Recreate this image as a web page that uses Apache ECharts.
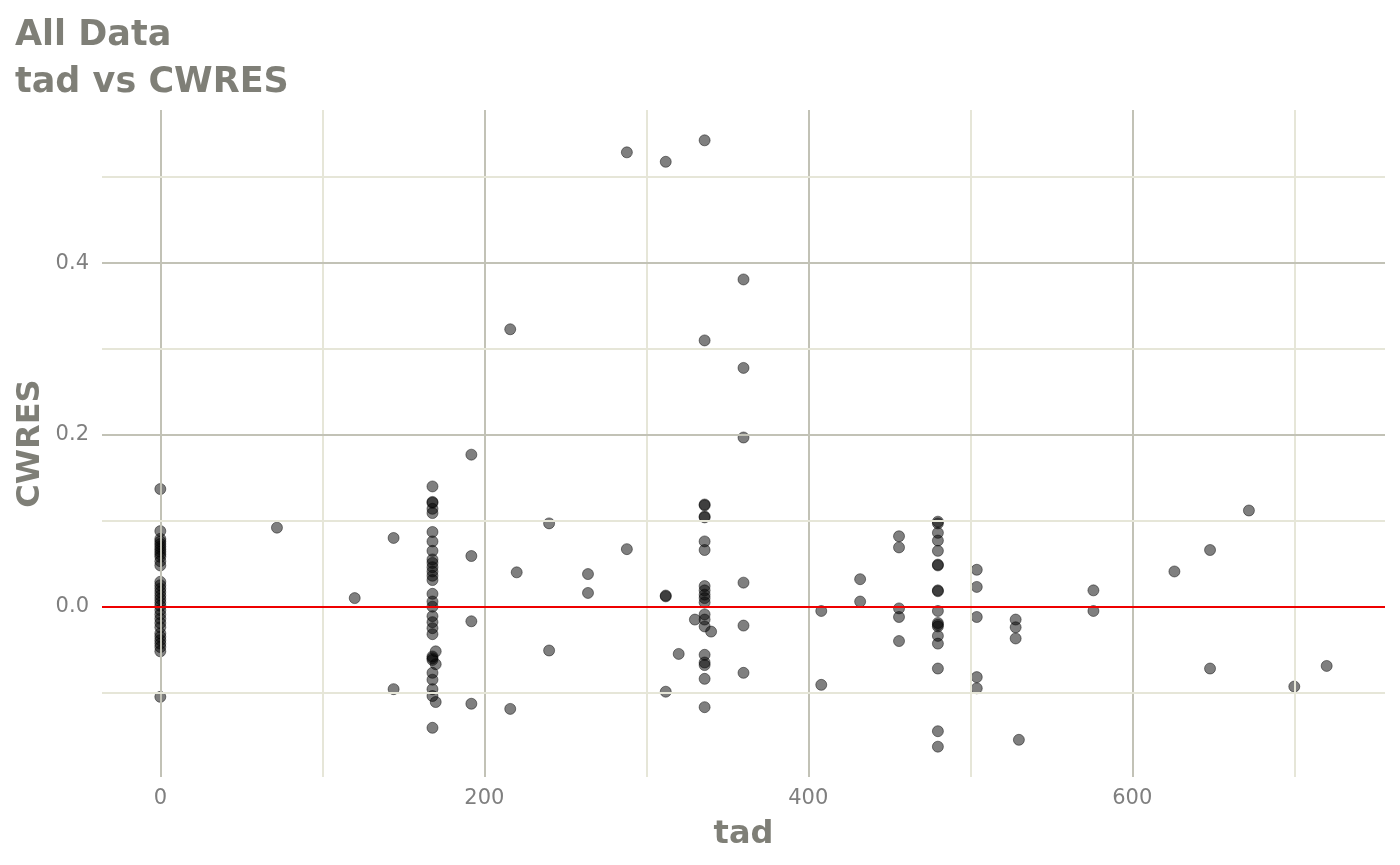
<!DOCTYPE html>
<html>
<head>
<meta charset="utf-8">
<script src="https://cdn.jsdelivr.net/npm/echarts@6/dist/echarts.min.js"></script>
<style>
html,body{margin:0;padding:0;background:#fff;}
#chart{width:1400px;height:865px;}
</style>
</head>
<body>
<div id="chart"></div>
<script>
// ---- data ----
const tadGroups = [0, 72, 120, 144, 168, 170, 192, 216, 220, 240, 264, 288, 312, 320, 330, 336, 340, 360, 408, 432, 456, 480, 504, 528, 530, 576, 626, 648, 672, 700, 720];
const cwresGroups = [
  [0.137, 0.088, 0.079, 0.076, 0.073, 0.070, 0.067, 0.064, 0.061, 0.058, 0.053, 0.048, 0.029, 0.025, 0.021, 0.017, 0.013, 0.009, 0.005, 0.001, -0.004, -0.009, -0.014, -0.019, -0.024, -0.031, -0.035, -0.039, -0.043, -0.047, -0.052, -0.105],
  [0.092],
  [0.010],
  [0.080, -0.096],
  [0.140, 0.122, 0.121, 0.114, 0.109, 0.087, 0.076, 0.065, 0.055, 0.051, 0.046, 0.041, 0.036, 0.031, 0.015, 0.006, 0.000, -0.011, -0.018, -0.025, -0.032, -0.058, -0.060, -0.062, -0.077, -0.085, -0.096, -0.104, -0.141],
  [-0.052, -0.067, -0.111],
  [0.177, 0.059, -0.017, -0.113],
  [0.323, -0.119],
  [0.040],
  [0.097, -0.051],
  [0.038, 0.016],
  [0.529, 0.067],
  [0.518, 0.013, 0.012, -0.099],
  [-0.055],
  [-0.015],
  [0.543, 0.310, 0.119, 0.118, 0.105, 0.104, 0.076, 0.066, 0.024, 0.019, 0.014, 0.010, 0.005, -0.009, -0.015, -0.023, -0.056, -0.065, -0.068, -0.084, -0.117],
  [-0.029],
  [0.381, 0.278, 0.197, 0.028, -0.022, -0.077],
  [-0.005, -0.091],
  [0.032, 0.006],
  [0.082, 0.069, -0.002, -0.012, -0.040],
  [0.099, 0.097, 0.086, 0.077, 0.065, 0.049, 0.048, 0.019, 0.018, -0.005, -0.019, -0.021, -0.023, -0.034, -0.043, -0.072, -0.145, -0.163],
  [0.043, 0.023, -0.012, -0.082, -0.095],
  [-0.015, -0.024, -0.037],
  [-0.155],
  [0.019, -0.005],
  [0.041],
  [0.066, -0.072],
  [0.112],
  [-0.093],
  [-0.069]
];
const xTickLabels = [0, 200, 400, 600];
const xMinorGrid = [100, 300, 500, 700];
const yTickLabels = [0, 0.2, 0.4];
const yMinorGrid = [-0.1, 0.1, 0.3, 0.5];
const refLineY = 0;
const xRange = [-36, 756];
const yRange = [-0.1983, 0.5783];

// ---- build points ----
const points = [];
tadGroups.forEach((t, i) => cwresGroups[i].forEach(v => points.push([t, v])));

const FONT = 'DejaVu Sans';
const TXT = '#7f7f77';
const majorStyle = {color: '#c2c2b6', width: 2, type: 'solid'};
const minorStyle = {color: '#e6e6d8', width: 2, type: 'solid'};

const gridLines = [];
xTickLabels.forEach(v => gridLines.push({xAxis: v, lineStyle: majorStyle}));
xMinorGrid.forEach(v => gridLines.push({xAxis: v, lineStyle: minorStyle}));
yTickLabels.forEach(v => gridLines.push({yAxis: v, lineStyle: majorStyle}));
yMinorGrid.forEach(v => gridLines.push({yAxis: v, lineStyle: minorStyle}));

const chart = echarts.init(document.getElementById('chart'), null, {renderer: 'canvas'});
chart.setOption({
  animation: false,
  backgroundColor: '#ffffff',
  textStyle: {fontFamily: FONT},
  title: {
    text: 'All Data\ntad vs CWRES',
    left: 10, top: 7,
    textStyle: {fontFamily: FONT, fontSize: 35, fontWeight: 'bold', color: TXT, lineHeight: 47}
  },
  grid: {left: 102, right: 15, top: 110, bottom: 88, containLabel: false},
  xAxis: {
    type: 'value', min: xRange[0], max: xRange[1],
    name: 'tad', nameLocation: 'middle', nameGap: 42, nameMoveOverlap: false,
    nameTextStyle: {fontFamily: FONT, fontSize: 32, fontWeight: 'bold', color: TXT},
    axisLine: {show: false},
    axisTick: {show: true, length: 6, customValues: xTickLabels, lineStyle: {color: '#808080', width: 2}},
    axisLabel: {customValues: xTickLabels, margin: 11, fontFamily: FONT, fontSize: 21, color: '#7f7f7f'},
    splitLine: {show: false}
  },
  yAxis: {
    type: 'value', min: yRange[0], max: yRange[1],
    name: 'CWRES', nameLocation: 'middle', nameGap: 55, nameMoveOverlap: false,
    nameTextStyle: {fontFamily: FONT, fontSize: 32, fontWeight: 'bold', color: TXT},
    axisLine: {show: false},
    axisTick: {show: true, length: 6, customValues: yTickLabels, lineStyle: {color: '#808080', width: 2}},
    axisLabel: {customValues: yTickLabels, margin: 13, fontFamily: FONT, fontSize: 21, color: '#7f7f7f',
      formatter: v => v.toFixed(1)},
    splitLine: {show: false}
  },
  series: [
    {
      type: 'scatter', data: [], z: 1, silent: true,
      markLine: {silent: true, symbol: 'none', label: {show: false}, animation: false, data: gridLines}
    },
    {
      type: 'scatter', data: points, z: 2, symbol: 'circle', symbolSize: 11,
      itemStyle: {color: 'rgba(0,0,0,0.5)', borderColor: 'rgba(0,0,0,0.45)', borderWidth: 1, opacity: 1}
    },
    {
      type: 'scatter', data: [], z: 3, silent: true,
      markLine: {silent: true, symbol: 'none', label: {show: false}, animation: false,
        data: [{yAxis: refLineY, lineStyle: {color: '#ee0000', width: 2.2, type: 'solid'}}]}
    }
  ]
});
</script>
</body>
</html>
